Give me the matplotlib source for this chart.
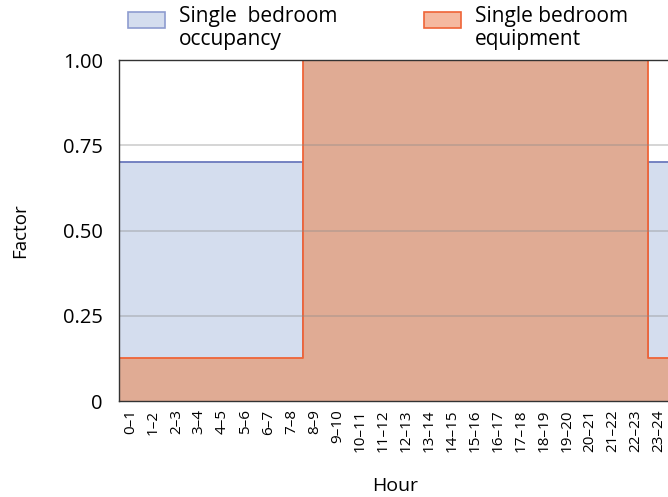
import matplotlib.pyplot as plt
from matplotlib.patches import Rectangle

hours = ['0–1', '1–2', '2–3', '3–4', '4–5', '5–6', '6–7', '7–8', '8–9', '9–10',
         '10–11', '11–12', '12–13', '13–14', '14–15', '15–16', '16–17', '17–18',
         '18–19', '19–20', '20–21', '21–22', '22–23', '23–24']
occupancy = [0.7] * 8 + [0.0] * 15 + [0.7]
equipment = [0.125] * 8 + [1.0] * 15 + [0.125]
series_labels = ['Single  bedroom\noccupancy', 'Single bedroom\nequipment']

plt.rcParams['font.family'] = ['Open Sans', 'DejaVu Sans']

W, H = 668, 497
fig = plt.figure(figsize=(W / 100, H / 100), dpi=100)
ax = fig.add_axes([0.178, 0.193, 0.826, 0.686])

x = list(range(len(hours)))
# extend the step ends so the fills reach the axis edges
xs = [-0.5] + x + [len(hours) - 0.5]
occ = [occupancy[0]] + occupancy + [occupancy[-1]]
eqp = [equipment[0]] + equipment + [equipment[-1]]

ax.fill_between(xs, 0, occ, step='mid', color='#d4ddee', lw=0, zorder=1)
ax.step(xs, occ, where='mid', color='#6b79bd', lw=1.3, zorder=2)
ax.fill_between(xs, 0, eqp, step='mid', color='#e0ab94', lw=0, zorder=3)
ax.step(xs, eqp, where='mid', color='#ef6437', lw=1.3, zorder=4)

ax.set_xlim(-0.5, len(hours) - 0.5)
ax.set_ylim(0, 1)
ax.set_yticks([0, 0.25, 0.5, 0.75, 1.0])
ax.set_yticklabels(['0', '0.25', '0.50', '0.75', '1.00'], fontsize=14.5)
ax.set_xticks(x)
ax.set_xticklabels(hours, rotation=90, fontsize=11)
ax.tick_params(length=0)
ax.tick_params(axis='x', pad=6)
ax.tick_params(axis='y', pad=11.5)
for yv in [0.25, 0.5, 0.75]:
    ax.axhline(yv, color='#8a8a8a', lw=1.2, alpha=0.42, zorder=5)
for s in ax.spines.values():
    s.set_color('#333333')
    s.set_linewidth(1.0)
    s.set_zorder(6)

ax.set_ylabel('Factor', fontsize=13.5, labelpad=24)
ax.set_xlabel('Hour', fontsize=14, labelpad=18)

# legend drawn by hand: swatch lines up with the first text line
swatches = [('#d4ddee', '#8e9ccf', 128), ('#f5b9a0', '#ef6437', 424)]
for (fc, ec, px), lab in zip(swatches, series_labels):
    fig.patches.append(Rectangle((px / W, 1 - 28 / H), 37 / W, 16 / H,
                                 transform=fig.transFigure, facecolor=fc,
                                 edgecolor=ec, lw=1.2))
    fig.text((px + 51) / W, 1 - 6 / H, lab, fontsize=15, va='top', ha='left',
             linespacing=1.1)

fig.savefig('out.png', dpi=100)
